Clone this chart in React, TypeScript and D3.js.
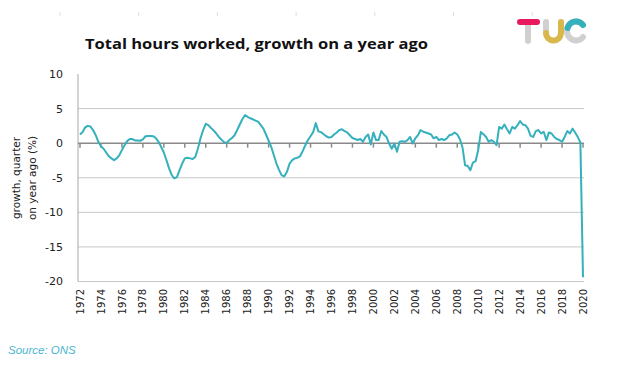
import React from 'react';
import * as d3 from 'd3';

// quarterly growth on a year ago, 1972 Q1 onwards
const hoursGrowth = [
  1.25, 1.6, 2.3, 2.5, // 1972
  2.4, 1.9, 1.15, 0.2,
  -0.45, -0.8, -1.35, -1.9,
  -2.2, -2.45, -2.2, -1.75,
  -1.0, -0.3, 0.3, 0.6,
  0.6, 0.4, 0.4, 0.35,
  0.55, 1.0, 1.05, 1.05,
  1.0, 0.7, 0.2, -0.55,
  -1.35, -2.45, -3.65, -4.6, // 1980
  -5.1, -4.9, -3.9, -2.95,
  -2.2, -2.1, -2.2, -2.3,
  -2.0, -0.8, 0.7, 1.9,
  2.8, 2.6, 2.2, 1.85,
  1.4, 0.9, 0.5, 0.15,
  0.05, 0.45, 0.75, 1.15,
  1.9, 2.7, 3.5, 4.05,
  3.8, 3.6, 3.45, 3.25,
  3.1, 2.6, 2.1, 1.25,
  0.35, -0.55, -1.75, -2.95, // 1990
  -3.9, -4.65, -4.8, -4.15,
  -2.95, -2.45, -2.2, -2.1,
  -1.9, -1.15, -0.3, 0.45,
  1.0, 1.6, 2.9, 1.7,
  1.6, 1.3, 1.0, 0.8,
  0.9, 1.25, 1.55, 1.9,
  2.0, 1.75, 1.55, 1.15,
  0.75, 0.6, 0.45, 0.6,
  0.2, 0.9, 1.25, -0.2,
  1.55, 0.45, 0.45, 1.75, // 2000
  1.25, 0.9, -0.05, -0.8,
  -0.05, -1.25, 0.2, 0.3,
  0.2, 0.45, 0.9, -0.05,
  0.7, 1.15, 1.9, 1.65,
  1.55, 1.4, 1.25, 0.7,
  0.9, 0.45, 0.6, 0.45,
  0.7, 1.15, 1.25, 1.55,
  1.25, 0.6, -0.6, -3.2,
  -3.3, -3.9, -2.8, -2.6,
  -1.0, 1.6, 1.3, 0.9, // 2010
  0.2, 0.45, 0.2, -0.3,
  2.35, 2.1, 2.7, 2.0,
  1.4, 2.35, 2.1, 2.6,
  3.2, 2.7, 2.6, 2.1,
  1.05, 0.9, 1.75, 1.9,
  1.4, 1.65, 0.45, 1.55,
  1.4, 0.9, 0.6, 0.45,
  0.2, 0.9, 1.75, 1.4,
  2.1, 1.55, 0.9, 0.1,
  -19.4, // 2020
];
const firstYear = 1972;

const yearLabels = [
  '1972', '1974', '1976', '1978', '1980', '1982', '1984', '1986', '1988',
  '1990', '1992', '1994', '1996', '1998', '2000', '2002', '2004', '2006',
  '2008', '2010', '2012', '2014', '2016', '2018', '2020',
];
const yTicks = [10, 5, 0, -5, -10, -15, -20];

const W = 632;
const H = 366;
const teal = '#35b0bd';
const font = '"DejaVu Sans", Verdana, sans-serif';

export default function App() {
  const x = d3.scaleLinear().domain([1972, 2020]).range([80, 583]);
  const y = d3.scaleLinear().domain([-20, 10]).range([281.5, 74]);
  const left = 78;
  const right = 584;

  const line = d3
    .line<number>()
    .x((d, i) => x(firstYear + i / 4))
    .y(d => y(d));

  return (
    <svg
      width={W}
      height={H}
      style={{ position: 'absolute', left: 0, top: 0, background: '#fff' }}
    >
      {/* faint marks along the top edge */}
      {d3.range(7).map(i => (
        <line key={i} x1={60 + i * 78.7} x2={60 + i * 78.7} y1={12} y2={16} stroke="#dedede" />
      ))}

      <text
        x={85}
        y={49}
        fontFamily='"Open Sans", "Liberation Sans", sans-serif'
        fontWeight="bold"
        fontSize={14.5}
        textLength={343}
        lengthAdjust="spacingAndGlyphs"
        fill="#111"
      >
        Total hours worked, growth on a year ago
      </text>

      {/* TUC logo */}
      <g strokeLinecap="round" fill="none" strokeWidth={6}>
        <line x1={528} x2={528} y1={22} y2={41} stroke="#d0d0d0" />
        <line x1={520} x2={537} y1={22} y2={22} stroke="#e8195f" />
        <path d="M546,22 V33" stroke="#d0d0d0" />
        <path d="M546,33 A7.5,7.5 0 0 0 561,33 V22" stroke="#d8b84c" />
        <path d="M583,25 A9,9.5 0 1 0 583,37" stroke="#d0d0d0" />
        <path d="M583,25 A9,9.5 0 0 0 567.5,28" stroke={teal} />
      </g>

      {/* gridlines */}
      {yTicks
        .filter(t => t !== 0 && t !== 10)
        .map(t => (
          <line key={t} x1={left} x2={right} y1={y(t)} y2={y(t)} stroke="#c8c8c8" />
        ))}
      <line x1={left} x2={left} y1={y(10)} y2={y(-20)} stroke="#a8a8a8" />

      {/* zero axis with year ticks */}
      <line x1={left} x2={right} y1={y(0)} y2={y(0)} stroke="#8a8a8a" strokeWidth={1.5} />
      {yearLabels.map(l => (
        <line key={l} x1={x(+l)} x2={x(+l)} y1={y(0)} y2={y(0) + 4.5} stroke="#8a8a8a" strokeWidth={1.5} />
      ))}

      {/* y tick labels */}
      {yTicks.map(t => (
        <text
          key={t}
          x={63}
          y={y(t)}
          dy="0.36em"
          textAnchor="end"
          fontFamily={font}
          fontSize={11}
          fill="#222"
        >
          {t}
        </text>
      ))}

      {/* x tick labels */}
      {yearLabels.map(l => (
        <text
          key={l}
          transform={`translate(${x(+l)},289) rotate(-90)`}
          dy="0.36em"
          textAnchor="end"
          fontFamily={font}
          fontSize={10}
          fill="#222"
        >
          {l}
        </text>
      ))}

      {/* y axis title */}
      <g fontFamily={font} fontSize={10.5} fill="#222" textAnchor="middle">
        <text transform="translate(20,178) rotate(-90)">growth, quarter</text>
        <text transform="translate(36,178) rotate(-90)">on year ago (%)</text>
      </g>

      <path d={line(hoursGrowth) ?? ''} fill="none" stroke={teal} strokeWidth={2} strokeLinejoin="round" />

      <text
        x={8}
        y={354}
        fontFamily='"Liberation Sans", Arial, sans-serif'
        fontStyle="italic"
        fontSize={11.5}
        fill="#4bb6cf"
      >
        Source: ONS
      </text>
    </svg>
  );
}
